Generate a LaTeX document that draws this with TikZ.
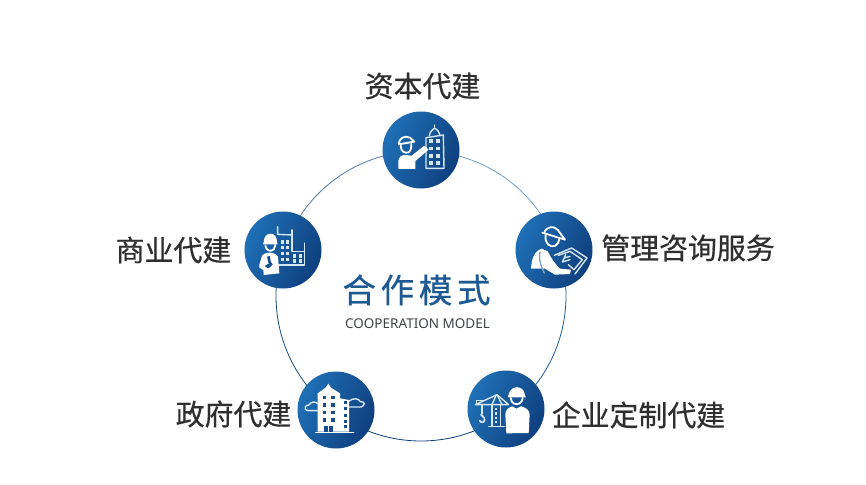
\documentclass[tikz,border=0pt]{standalone}
\usepackage{fontspec}
\setmainfont[FakeBold=0.6]{Noto Sans CJK SC}
\newfontfamily\latinf{Noto Sans}
\newfontfamily\titlef[LetterSpace=14,FakeBold=0.6]{Noto Sans CJK SC}
\definecolor{txt}{HTML}{2F2F2F}
\definecolor{titleblue}{HTML}{1D5A94}
\definecolor{subgray}{HTML}{3F4347}
\definecolor{lightb}{HTML}{1F70B6}
\definecolor{darkb}{HTML}{0F3F7E}
\definecolor{pale}{HTML}{D5E7F3}
\tikzset{
  disc/.style={circle,inner sep=0pt,outer sep=0pt,minimum size=77pt,top color=lightb,bottom color=darkb,shading angle=65},
  label text/.style={font=\fontsize{28.9pt}{31pt}\selectfont,text=txt,inner sep=0pt},
  ringarc/.style={line width=.8pt},
  pl/.style={draw=pale,line width=1.4pt,line join=round,line cap=round},
  wl/.style={draw=white,line width=1.8pt,line join=round,line cap=round},
  wf/.style={fill=white},
  pf/.style={fill=pale},
  bf/.style={fill=darkb!70!lightb},
}
\begin{document}
\begin{tikzpicture}[x=1pt,y=-1pt]
\useasboundingbox (0,0) rectangle (866,484);
\fill[white] (0,0) rectangle (866,484);
\node[circle,inner sep=0pt,outer sep=0pt,minimum size=290pt] (ring) at (421,296) {};
\draw[ringarc,color=lightb!65!white] (ring.90) arc[start angle=90,end angle=18,radius=145pt];
\draw[ringarc,color=lightb!85!black] (ring.18) arc[start angle=18,end angle=-54,radius=145pt];
\draw[ringarc,color=darkb] (ring.-54) arc[start angle=-54,end angle=-126,radius=145pt];
\draw[ringarc,color=lightb!70!black] (ring.-126) arc[start angle=-126,end angle=-198,radius=145pt];
\draw[ringarc,color=darkb!70!white] (ring.-198) arc[start angle=-198,end angle=-270,radius=145pt];

\node[disc] (n1) at (421,150) {};
\node[disc] (n2) at (554,250) {};
\node[disc] (n3) at (506,409) {};
\node[disc] (n4) at (336,410) {};
\node[disc] (n5) at (283,250) {};

\node[label text] (t1) at (422.5,86) {资本代建};
\node[label text] (t2) at (688,248) {管理咨询服务};
\node[label text] (t3) at (638.5,415) {企业定制代建};
\node[label text] (t4) at (233.5,414) {政府代建};
\node[label text] (t5) at (173.5,250) {商业代建};
\node[font=\titlef\fontsize{33.5pt}{36pt}\selectfont,text=titleblue,inner sep=0pt] (title) at (416.5,290) {合作模式};
\node[font=\latinf\fontsize{13.5pt}{15pt}\selectfont,text=subgray,inner sep=0pt] (sub) at (417.5,324) {COOPERATION MODEL};

% icon 1: worker pointing at tower
\begin{scope}[shift={(n1.center)},x=.3333pt,y=-.3333pt,shift={(-153,-135)}]
  \draw[pl] (168,190) -- (168,98) -- (220,90) -- (222,190) -- cycle;
  \draw[pl] (178,92) .. controls (180,78) and (190,72) .. (194,70) .. controls (200,72) and (208,80) .. (210,92);
  \draw[pl] (194,70) -- (194,60);
  \foreach \yy in {103,125,147,168}{
    \fill[pf] (177,\yy) rectangle (189,\yy+11);
    \fill[pf] (199,\yy) rectangle (211,\yy+11);
  }
  \fill[wf] (85,192) -- (85,168) .. controls (87,155) and (95,150) .. (105,150) -- (125,152) -- (163,122) -- (176,134) -- (136,168) -- (136,192) -- cycle;
  \draw[wl] (86,118) .. controls (86,100) and (104,90) .. (120,98) -- (133,110) -- (86,118);
  \draw[wl] (92,122) .. controls (92,140) and (105,146) .. (115,142) .. controls (122,138) and (125,128) .. (124,116);
\end{scope}

% icon 2: worker with blueprint
\begin{scope}[shift={(n2.center)},x=.3333pt,y=-.3333pt,shift={(-147,-136)}]
  \draw[wl] (118,85) .. controls (122,65) and (150,58) .. (165,85);
  \draw[wl] (112,84) -- (180,105) -- (165,85);
  \draw[wl] (122,92) .. controls (118,115) and (135,130) .. (150,124) .. controls (158,120) and (163,110) .. (163,102);
  \fill[wf] (78,192) .. controls (80,160) and (88,140) .. (110,132) -- (128,140) .. controls (138,160) and (150,178) .. (165,192) -- (198,195) -- (195,208) -- (150,210) -- (120,192) -- cycle;
  \draw[pl,draw=darkb!40!pale] (105,142) .. controls (100,165) and (110,190) .. (118,205);
  \draw[pl] (148,152) -- (200,130) -- (246,160) -- (210,208);
  \draw[pl] (160,152) -- (195,140) -- (232,165) -- (207,195) -- (190,180);
  \draw[pl] (172,172) -- (182,150) (178,160) -- (195,155) (172,172) -- (195,165);
\end{scope}

% icon 3: crane and worker
\begin{scope}[shift={(n3.center)},x=.3333pt,y=-.3333pt,shift={(-137,-133)}]
  \draw[pl] (45,120) -- (145,120) -- (110,90) -- (45,120);
  \draw[pl] (95,120) -- (108,90) (125,120) -- (110,90);
  \draw[pl] (48,120) -- (48,108) -- (72,108);
  \draw[pl] (65,120) -- (65,148);
  \draw[pl,line width=1.7pt] (62,150) -- (72,160) .. controls (76,172) and (64,178) .. (58,168);
  \draw[pl] (95,120) -- (95,185) (120,120) -- (120,185) (85,186) -- (132,186);
  \foreach \yy in {130,143,156,169}{\fill[pf] (105,\yy) rectangle (110,\yy+7);}
  \fill[wf] (144,92) .. controls (146,72) and (168,62) .. (180,70) .. controls (190,75) and (194,84) .. (194,92) -- (197,98) -- (143,98) -- cycle;
  \draw[wl] (151,100) .. controls (153,118) and (168,122) .. (178,116) .. controls (184,112) and (187,106) .. (187,100);
  \fill[wf] (135,150) .. controls (135,135) and (145,128) .. (156,125) -- (168,132) -- (182,125) .. controls (196,128) and (208,136) .. (208,150) -- (205,205) -- (138,206) -- cycle;
\end{scope}

% icon 4: office tower with clouds
\begin{scope}[shift={(n4.center)},x=.3333pt,y=-.3333pt,shift={(-153,-135)}]
  \draw[pl] (98,137) -- (68,137) .. controls (55,135) and (60,118) .. (72,120) .. controls (76,110) and (92,108) .. (98,116);
  \draw[pl] (192,126) -- (228,126) .. controls (242,122) and (240,108) .. (226,110) .. controls (222,100) and (205,98) .. (192,108);
  \fill[wf] (98,200) -- (98,85) -- (122,68) -- (130,56) -- (138,68) -- (165,85) -- (165,100) -- (192,105) -- (192,200) -- cycle;
  \draw[wl,line width=1.4pt] (92,203) -- (206,203);
  \foreach \yy in {92,115,138,160}{
    \fill[bf] (113,\yy) rectangle (124,\yy+10);
    \fill[bf] (138,\yy) rectangle (149,\yy+10);
  }
  \foreach \yy in {107,127,147,164,181}{\fill[bf] (176,\yy) rectangle (186,\yy+9);}
  \fill[bf] (117,183) rectangle (128,200);
  \fill[bf] (131,183) rectangle (144,200);
\end{scope}

% icon 5: engineer with buildings
\begin{scope}[shift={(n5.center)},x=.3333pt,y=-.3333pt,shift={(-143,-135)}]
  \draw[pl] (127,65) -- (127,88) -- (170,90) -- (170,75);
  \draw[pl] (170,75) -- (170,140) -- (208,140) -- (208,115);
  \draw[pl] (208,115) -- (208,180) -- (130,180);
  \foreach \xx in {137,152}{\foreach \yy in {105,122,140,158}{\fill[pf] (\xx,\yy) rectangle (\xx+10,\yy+11);}}
  \foreach \xx in {172,190}{\foreach \yy in {148,163}{\fill[pf] (\xx,\yy) rectangle (\xx+11,\yy+10);}}
  \fill[wf] (85,112) .. controls (85,95) and (95,86) .. (105,86) .. controls (118,86) and (125,96) .. (125,112) -- (127,118) -- (83,118) -- cycle;
  \draw[wl] (90,122) .. controls (92,138) and (108,142) .. (116,132) .. controls (119,128) and (120,124) .. (120,120);
  \fill[wf] (72,188) .. controls (70,175) and (78,165) .. (80,152) .. controls (85,146) and (92,143) .. (102,143) .. controls (115,143) and (125,148) .. (128,156) -- (132,205) -- (85,210) -- (84,195) -- cycle;
  \fill[bf] (95,155) -- (104,153) -- (106,170) -- (112,178) -- (104,187) -- (98,190) -- (88,183) -- (100,176) -- cycle;
\end{scope}
\end{tikzpicture}
\end{document}
